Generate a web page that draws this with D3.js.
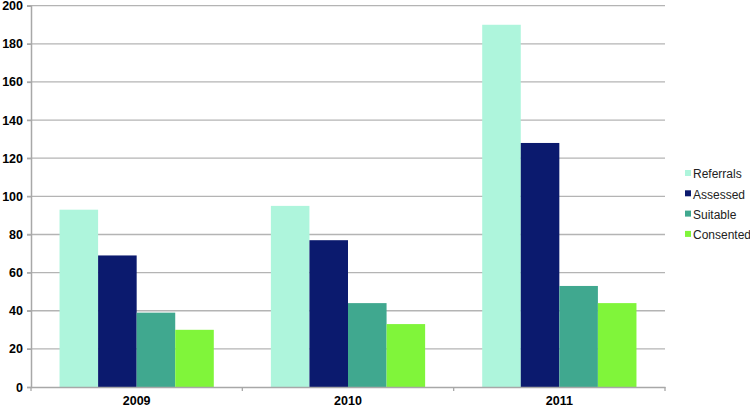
<!DOCTYPE html>
<html><head><meta charset="utf-8">
<script src="https://cdn.jsdelivr.net/npm/d3@7"></script>
<style>body{margin:0;background:#fff}svg{display:block}</style>
</head><body>
<svg id="c" width="750" height="407"></svg>
<script>
const categories = ["2009", "2010", "2011"];
const seriesNames = ["Referrals", "Assessed", "Suitable", "Consented"];
const referrals = [93, 95, 190];
const assessed = [69, 77, 128];
const suitable = [39, 44, 53];
const consented = [30, 33, 44];
const yTicks = [0, 20, 40, 60, 80, 100, 120, 140, 160, 180, 200];
const colors = ["#aef5dc", "#0b1a6e", "#40a88f", "#80f53a"];

const seriesValues = [referrals, assessed, suitable, consented];
const svg = d3.select("#c");
const m = {left: 31, right: 665, top: 5.7, bottom: 387};
const x = d3.scaleBand().domain(categories).range([m.left, m.right]);
const x1 = d3.scaleBand().domain(seriesNames).range([0, x.bandwidth()]).paddingOuter(0.74).paddingInner(0);
const y = d3.scaleLinear().domain([0, 200]).range([m.bottom, m.top]);

// gridlines
svg.append("g").selectAll("line").data(yTicks.filter(d => d > 0)).join("line")
  .attr("x1", m.left - 4).attr("x2", m.right)
  .attr("y1", d => y(d)).attr("y2", d => y(d))
  .attr("stroke", "#b4b4b4").attr("stroke-width", 1.3);

// bars
const groups = svg.append("g").selectAll("g").data(categories).join("g")
  .attr("transform", d => `translate(${x(d)},0)`);
groups.selectAll("rect").data((c, i) => seriesNames.map((s, j) => ({s, v: seriesValues[j][i], j})))
  .join("rect")
  .attr("x", d => x1(d.s)).attr("width", x1.bandwidth())
  .attr("y", d => y(d.v)).attr("height", d => y(0) - y(d.v))
  .attr("fill", d => colors[d.j]);

// y axis
const yAxis = svg.append("g").attr("transform", `translate(${m.left},0)`)
  .call(d3.axisLeft(y).tickValues(yTicks).tickSize(4).tickPadding(4));
yAxis.select(".domain").attr("stroke", "#a8a8a8").attr("stroke-width", 1.5);
yAxis.selectAll(".tick line").attr("stroke", "#a8a8a8").attr("stroke-width", 1.3);
yAxis.selectAll("text").attr("font-family", "Liberation Sans, Arial, sans-serif")
  .attr("font-size", 12.5).attr("font-weight", "bold").attr("fill", "#000");

// x axis
const xAxis = svg.append("g").attr("transform", `translate(0,${m.bottom})`)
  .call(d3.axisBottom(x).tickSize(0).tickPadding(9));
xAxis.select(".domain").attr("stroke", "#a8a8a8").attr("stroke-width", 1.5);
xAxis.selectAll("text").attr("font-family", "Liberation Sans, Arial, sans-serif")
  .attr("font-size", 12.5).attr("font-weight", "bold").attr("fill", "#000");
// category separator ticks
const seps = categories.map(c => x(c)).concat([m.right]);
svg.append("g").selectAll("line").data(seps).join("line")
  .attr("x1", d => d).attr("x2", d => d)
  .attr("y1", m.bottom).attr("y2", m.bottom + 4)
  .attr("stroke", "#a8a8a8").attr("stroke-width", 1.3);

// legend
const leg = svg.append("g").attr("transform", "translate(685,174)");
const li = leg.selectAll("g").data(seriesNames).join("g")
  .attr("transform", (d, i) => `translate(0,${i * 20.3})`);
li.append("rect").attr("x", 0).attr("y", -4).attr("width", 6).attr("height", 6)
  .attr("fill", (d, i) => colors[i]);
li.append("text").attr("x", 8).attr("y", 0).attr("dy", "0.35em")
  .attr("font-family", "Liberation Sans, Arial, sans-serif").attr("font-size", 12)
  .attr("fill", "#222").text(d => d);
</script>
</body></html>
